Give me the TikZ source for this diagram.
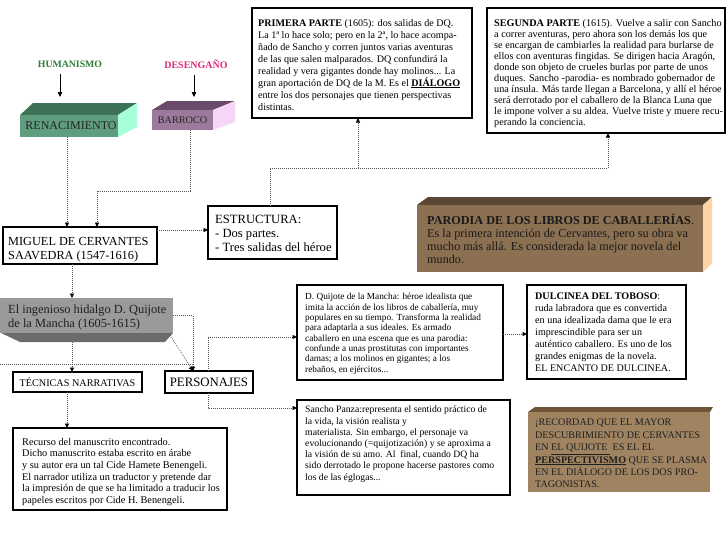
\documentclass[tikz,border=0pt]{standalone}
\usepackage{fontspec}
\setmainfont{Liberation Serif}
\usetikzlibrary{arrows.meta,calc}
\definecolor{humgreen}{HTML}{2E7D3A}
\definecolor{despink}{HTML}{E0287A}
\definecolor{renfront}{HTML}{5E9E7E}
\definecolor{rentop}{HTML}{3E7257}
\definecolor{renside}{HTML}{A6FFD6}
\definecolor{barfront}{HTML}{9B7A9B}
\definecolor{bartop}{HTML}{6A4C6A}
\definecolor{barside}{HTML}{F6D6F6}
\definecolor{parfront}{HTML}{8C7052}
\definecolor{partop}{HTML}{5A4632}
\definecolor{parside}{HTML}{FFD3A6}
\definecolor{hidfront}{HTML}{9A9A9A}
\definecolor{hidbot}{HTML}{6C6C6C}
\definecolor{recfront}{HTML}{A08462}
\definecolor{rectop}{HTML}{6E5538}
\definecolor{connc}{HTML}{555555}
\begin{document}
\begin{tikzpicture}[x=1pt,y=-1pt,
  frame/.style={draw=black,line width=1.6pt,inner sep=0pt,outer sep=0pt,anchor=north west},
  face/.style={inner sep=0pt,outer sep=0pt,anchor=north west},
  txt/.style={inner sep=0pt,anchor=north west,align=left},
  conn/.style={draw=connc,line width=0.6pt,dash pattern=on 1pt off 1pt,-{Triangle[length=4.5pt,width=4pt,black]}},
  connplain/.style={draw=connc,line width=0.6pt,dash pattern=on 1pt off 1pt},
  solidarrow/.style={draw=black,line width=0.8pt,-{Triangle[length=5pt,width=4.5pt]}}
]
\useasboundingbox (0,0) rectangle (728,546);
\fill[white] (0,0) rectangle (728,546);

% top labels
\node[font=\fontsize{9.8}{11}\selectfont\bfseries, text=humgreen] (hum) at (70,64) {HUMANISMO};
\node[font=\fontsize{10}{11}\selectfont\bfseries, text=despink] (des) at (196,64) {DESENGAÑO};

% RENACIMIENTO
\fill[rentop] (20,115) -- (33,103) -- (137,103) -- (118,115) -- cycle;
\fill[renside] (118,115) -- (137,103) -- (137,127) -- (118,137) -- cycle;
\node[face, fill=renfront, minimum width=98pt, minimum height=22pt,
      font=\fontsize{12}{13}\selectfont, text=black!85] (ren) at (20,115) {\hspace*{4pt}RENACIMIENTO};

% BARROCO
\fill[bartop] (152,110) -- (167,101) -- (235,101) -- (213,110) -- cycle;
\fill[barside] (213,110) -- (235,101) -- (235,122) -- (213,130) -- cycle;
\node[face, fill=barfront, minimum width=61pt, minimum height=20pt,
      font=\fontsize{10.2}{12}\selectfont, text=black!85] (bar) at (152,110) {BARROCO};

\coordinate (renIn) at (60,97);
\coordinate (barIn) at (194,97);
\draw[solidarrow] ([shift={(-10pt,-3pt)}]hum.south) -- (renIn);
\draw[solidarrow] ([shift={(-2pt,-3pt)}]des.south) -- (barIn);

% PRIMERA PARTE
\node[frame, minimum width=220pt, minimum height=110pt] (prim) at (252,8) {};
\node[txt, font=\fontsize{10.1}{12}\selectfont] (primT) at (258,18.8) {%
\textbf{PRIMERA PARTE} (1605): dos salidas de DQ.\\
La 1ª lo hace solo; pero en la 2ª, lo hace acompa-\\
ñado de Sancho y corren juntos varias aventuras\\
de las que salen malparados. DQ confundirá la\\
realidad y vera gigantes donde hay molinos... La\\
gran aportación de DQ de la M. Es el \textbf{\underline{DIÁLOGO}}\\
entre los dos personajes que tienen perspectivas\\
distintas.};

% SEGUNDA PARTE
\node[frame, minimum width=238pt, minimum height=125pt] (seg) at (487,8) {};
\node[txt, font=\fontsize{10.2}{11.1}\selectfont] (segT) at (494,18.8) {%
\textbf{SEGUNDA PARTE} (1615). Vuelve a salir con Sancho\\
a correr aventuras, pero ahora son los demás los que\\
se encargan de cambiarles la realidad para burlarse de\\
ellos con aventuras fingidas. Se dirigen hacia Aragón,\\
donde son objeto de crueles burlas por parte de unos\\
duques. Sancho -parodia- es nombrado gobernador de\\
una ínsula. Más tarde llegan a Barcelona, y allí el héroe\\
será derrotado por el caballero de la Blanca Luna que\\
le impone volver a su aldea. Vuelve triste y muere recu-\\
perando la conciencia.};

% MIGUEL
\node[frame, minimum width=154pt, minimum height=37pt] (miguel) at (3,227) {};
\node[txt, font=\fontsize{12.3}{14.5}\selectfont] (miguelT) at (8,236.8) {%
MIGUEL DE CERVANTES\\
SAAVEDRA (1547-1616)};

% ESTRUCTURA
\node[frame, minimum width=129pt, minimum height=53pt] (estr) at (208,206) {};
\node[txt, font=\fontsize{12.6}{14}\selectfont] (estrT) at (215,214.5) {%
ESTRUCTURA:\\
- Dos partes.\\
- Tres salidas del héroe};

% PARODIA
\fill[partop] (417,205) -- (428,197) -- (712,197) -- (703,205) -- cycle;
\fill[parside] (703,205) -- (712,197) -- (712,263) -- (703,272) -- cycle;
\node[face, fill=parfront, minimum width=286pt, minimum height=67pt] (par) at (417,205) {};
\node[txt, font=\fontsize{12.2}{13}\selectfont, text=black!90] (parT) at (427,214) {%
\textbf{PARODIA DE LOS LIBROS DE CABALLERÍAS}.\\
Es la primera intención de Cervantes, pero su obra va\\
mucho más allá. Es considerada la mejor novela del\\
mundo.};

% HIDALGO
\fill[hidbot] (1,333) -- (20,342) -- (165,342) -- (173,333) -- cycle;
\node[face, fill=hidfront, minimum width=173pt, minimum height=35pt] (hid) at (0,298) {};
\node[txt, font=\fontsize{12.4}{14}\selectfont, text=black!88] (hidT) at (8,305) {%
El ingenioso hidalgo D. Quijote\\
de la Mancha (1605-1615)};

% TECNICAS, PERSONAJES
\node[frame, minimum width=129pt, minimum height=20pt, font=\fontsize{10.2}{11}\selectfont] (tec) at (13,372) {TÉCNICAS NARRATIVAS};
\node[frame, minimum width=88pt, minimum height=22pt, font=\fontsize{12.8}{13}\selectfont] (pers) at (165,371) {PERSONAJES};

% Recurso
\node[frame, minimum width=214pt, minimum height=82pt] (rec) at (13,428) {};
\node[txt, font=\fontsize{10.3}{11.6}\selectfont] (recT) at (22,438) {%
Recurso del manuscrito encontrado.\\
Dicho manuscrito estaba escrito en árabe\\
y su autor era un tal Cide Hamete Benengeli.\\
El narrador utiliza un traductor y pretende dar\\
la impresión de que se ha limitado a traducir los\\
papeles escritos por Cide H. Benengeli.};

% D. Quijote
\node[frame, line width=1.4pt, minimum width=206pt, minimum height=95pt] (dq) at (297,285) {};
\node[txt, font=\fontsize{9.3}{10.3}\selectfont] (dqT) at (305,293.3) {%
D. Quijote de la Mancha: héroe idealista que\\
imita la acción de los libros de caballería, muy\\
populares en su tiempo. Transforma la realidad\\
para adaptarla a sus ideales. Es armado\\
caballero en una escena que es una parodia:\\
confunde a unas prostitutas con importantes\\
damas; a los molinos en gigantes; a los\\
rebaños, en ejércitos...};

% Dulcinea
\node[frame, line width=1.4pt, minimum width=159pt, minimum height=94pt] (dulc) at (527,285) {};
\node[txt, font=\fontsize{10.1}{12}\selectfont] (dulcT) at (535,293) {%
\textbf{DULCINEA DEL TOBOSO}:\\
ruda labradora que es convertida\\
en una idealizada dama que le era\\
imprescindible para ser un\\
auténtico caballero. Es uno de los\\
grandes enigmas de la novela.\\
EL ENCANTO DE DULCINEA.};

% Sancho
\node[frame, line width=1.2pt, minimum width=213pt, minimum height=95pt] (sancho) at (297,400) {};
\node[txt, font=\fontsize{9.7}{11.2}\selectfont] (sanchoT) at (305,406) {%
Sancho Panza:representa el sentido práctico de\\
la vida, la visión realista y\\
materialista. Sin embargo, el personaje va\\
evolucionando (=quijotización) y se aproxima a\\
la visión de su amo. Al\ \ final, cuando DQ ha\\
sido derrotado le propone hacerse pastores como\\
los de las églogas...};

% RECORDAD
\fill[rectop] (528,412) -- (535,407) -- (713,407) -- (710,412) -- cycle;
\node[face, fill=recfront, minimum width=182pt, minimum height=80pt] (recb) at (528,412) {};
\node[txt, font=\fontsize{10.1}{12.4}\selectfont, text=black!88] (recbT) at (535,419) {%
¡RECORDAD QUE EL MAYOR\\
DESCUBRIMIENTO DE CERVANTES\\
EN \underline{EL QUIJOTE\ } ES EL EL\\
\textbf{\underline{PERSPECTIVISMO}} QUE SE PLASMA\\
EN EL DIÁLOGO DE LOS DOS PRO-\\
TAGONISTAS.};

% connectors
\draw[conn] ($(ren.south west)+(47,0)$) -- ($(miguel.north west)+(64,0)$);
\draw[conn] ($(bar.south west)+(38,0)$) -- ++(0,61) -| ($(miguel.north west)+(94,0)$);
\draw[conn] ($(miguel.north east)+(0,3)$) -- ($(estr.north west)+(0,24)$);
\draw[conn] ($(estr.north west)+(62,0)$) -- ++(0,-38) -| ($(seg.south west)+(121,0)$);
\coordinate (brP) at (358,168);
\draw[conn] (brP) -- ($(prim.south west)+(106,0)$);
\draw[conn] ($(miguel.south west)+(69,0)$) -- ($(hid.north west)+(72,0)$);
\draw[conn] ($(hid.south west)+(72,9)$) -- ($(tec.north west)+(59,0)$);
\coordinate (lft) at (0,364);
\draw[connplain] (lft) -- ($(pers.north west)+(28,-7)$);
\draw[conn] ($(hid.south east)+(-3,2)$) -- ($(pers.north west)+(28,0)$);
\draw[conn] (hid.east) -| ($(pers.north west)+(28,0)$);
\draw[conn] ($(pers.north west)+(43,0)$) |- ($(dq.north west)+(0,52)$);
\draw[conn] ($(pers.south west)+(43,0)$) |- ($(sancho.north west)+(0,8)$);
\draw[conn] ($(tec.south west)+(54,0)$) -- ($(rec.north west)+(54,0)$);
\draw[conn] ($(dq.north east)+(0,49)$) -- ($(dulc.north west)+(0,49)$);
\end{tikzpicture}
\end{document}
